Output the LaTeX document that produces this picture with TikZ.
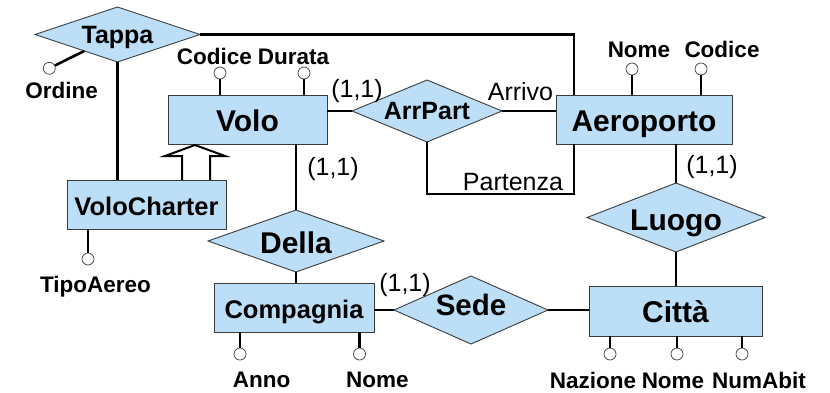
\documentclass[tikz,border=0pt]{standalone}
\usepackage{fontspec}
\setmainfont{Liberation Sans}
\usetikzlibrary{shapes.geometric}
\definecolor{erfill}{RGB}{188,223,247}
\definecolor{erline}{RGB}{60,60,60}
\begin{document}
\begin{tikzpicture}[x=1pt,y=-1pt,
  shapebase/.style={draw=erline,line width=0.9pt,fill=erfill,inner sep=0pt,outer sep=0pt,text depth=0pt},
  entity/.style={shapebase,rectangle},
  rel/.style={shapebase,diamond},
  big/.style={font=\fontsize{30}{36}\selectfont\bfseries,text height=21.5pt},
  mid/.style={font=\fontsize{25.5}{30}\selectfont\bfseries,text height=18.3pt},
  conn/.style={line width=2.6pt},
  isaline/.style={line width=2pt,line join=miter},
  attrc/.style={circle,draw=erline,fill=white,line width=0.7pt,inner sep=0pt,minimum size=12pt},
  attrl/.style={font=\fontsize{22.5}{27}\selectfont\bfseries,inner sep=0pt,text height=16.1pt,text depth=0pt},
  card/.style={font=\fontsize{25}{30}\selectfont,inner sep=0pt,text height=17.9pt,text depth=0pt}]
\useasboundingbox (0,0) rectangle (830,392);
\fill[white] (0,0) rectangle (830,392);

% entities
\node[entity,big,minimum width=159pt,minimum height=49pt] (Volo) at (247.5,119.5) {\raisebox{-1pt}{Volo}};
\node[entity,big,minimum width=176pt,minimum height=49pt] (Aeroporto) at (644,119.5) {\raisebox{-1pt}{Aeroporto}};
\node[entity,mid,minimum width=159pt,minimum height=49pt] (VoloCharter) at (146.5,204.7) {\raisebox{-2pt}{VoloCharter}};
\node[entity,mid,minimum width=160pt,minimum height=49pt] (Compagnia) at (294,307.5) {\raisebox{-1.5pt}{Compagnia}};
\node[entity,big,minimum width=173pt,minimum height=50pt] (Citta) at (675.5,311) {\raisebox{-1pt}{Città}};

% relationships
\node[rel,font=\fontsize{25}{30}\selectfont\bfseries,text height=17.9pt,aspect=3,minimum width=165pt,minimum height=55pt] (Tappa) at (117.5,34.5) {Tappa};
\node[rel,font=\fontsize{25}{30}\selectfont\bfseries,text height=17.9pt,aspect=2.42,minimum width=150pt,minimum height=62pt] (ArrPart) at (427,111) {ArrPart};
\node[rel,big,aspect=2.84,minimum width=176pt,minimum height=62pt] (Della) at (296,241) {\raisebox{-2pt}{Della}};
\node[rel,font=\fontsize{29.5}{35}\selectfont\bfseries,text height=21.1pt,aspect=2.26,minimum width=154pt,minimum height=68pt] (Sede) at (471,310) {\raisebox{5pt}{Sede}};
\node[rel,big,aspect=2.58,minimum width=178pt,minimum height=69pt] (Luogo) at (676,217.5) {\raisebox{-2pt}{Luogo}};

% helper coordinates
\coordinate (tapc) at (574,34.5);
\coordinate (partc) at (574,194);

% connectors
\draw[conn] (Tappa.east) -- (tapc) -- (tapc |- Aeroporto.north);
\draw[conn] (Tappa.south) -- (Tappa.south |- VoloCharter.north);
\draw[conn] (ArrPart.west) -- (ArrPart.west -| Volo.east);
\draw[conn] (ArrPart.east) -- (ArrPart.east -| Aeroporto.west);
\draw[conn,line join=miter] (ArrPart.south) -- (ArrPart.south |- partc) -- (partc) -- (partc |- Aeroporto.south);
\draw[conn] (Della.north) -- (Della.north |- Volo.south);
\draw[conn] (Della.south) -- (Della.south |- Compagnia.north);
\draw[conn] (Sede.west) -- (Sede.west -| Compagnia.east);
\draw[conn] (Sede.east) -- (Sede.east -| Citta.west);
\draw[conn] (Luogo.north) -- (Luogo.north |- Aeroporto.south);
\draw[conn] (Luogo.south) -- (Luogo.south |- Citta.north);

% ISA
\draw[isaline] (182,180) -- (182,156) -- (165,156) -- (195,145) -- (225,156) -- (210,156) -- (210,180);

% attributes
\node[attrc] (aOrdine) at (49.3,68.3) {};
\draw[conn] (aOrdine) -- (Tappa);
\node[attrc] (aVCod) at (220,73) {};
\node[attrc] (aVDur) at (304,73) {};
\draw[conn] (aVCod) -- (aVCod |- Volo.north);
\draw[conn] (aVDur) -- (aVDur |- Volo.north);
\node[attrc] (aANome) at (632,69) {};
\node[attrc] (aACod) at (701,69) {};
\draw[conn] (aANome) -- (aANome |- Aeroporto.north);
\draw[conn] (aACod) -- (aACod |- Aeroporto.north);
\node[attrc] (aTipo) at (88,259) {};
\draw[conn] (aTipo) -- (aTipo |- VoloCharter.south);
\node[attrc] (aAnno) at (240,354) {};
\node[attrc] (aCNome) at (359.5,354) {};
\draw[conn] (aAnno) -- (aAnno |- Compagnia.south);
\draw[conn] (aCNome) -- (aCNome |- Compagnia.south);
\node[attrc] (aNaz) at (610,354) {};
\node[attrc] (aCiNome) at (677,354) {};
\node[attrc] (aNum) at (742,354) {};
\draw[conn] (aNaz) -- (aNaz |- Citta.south);
\draw[conn] (aCiNome) -- (aCiNome |- Citta.south);
\draw[conn] (aNum) -- (aNum |- Citta.south);

% attribute labels
\node[attrl] (lOrdine) at (61.7,90.5) {Ordine};
\node[attrl] (lVCod) at (214.5,56.5) {Codice};
\node[attrl] (lVDur) at (293.5,56.5) {Durata};
\node[attrl] (lANome) at (639,49.5) {Nome};
\node[attrl] (lACod) at (722,49.5) {Codice};
\node[attrl] (lTipo) at (95.5,284) {TipoAereo};
\node[attrl] (lAnno) at (261.5,379.5) {Anno};
\node[attrl] (lCNome) at (377.5,379.5) {Nome};
\node[attrl] (lNaz) at (593,380) {Nazione};
\node[attrl] (lCiNome) at (673,380) {Nome};
\node[attrl] (lNum) at (759,380) {NumAbit};

% role / cardinality labels
\node[card] (cVoloArr) at (357,88.5) {(1,1)};
\node[card] (cVoloDella) at (333,166.5) {(1,1)};
\node[card] (cAeroLuogo) at (712,165) {(1,1)};
\node[card] (cCompSede) at (405,283) {(1,1)};
\node[card] (rArrivo) at (520.5,91.5) {Arrivo};
\node[card] (rPartenza) at (513,181.5) {Partenza};
\end{tikzpicture}
\end{document}
